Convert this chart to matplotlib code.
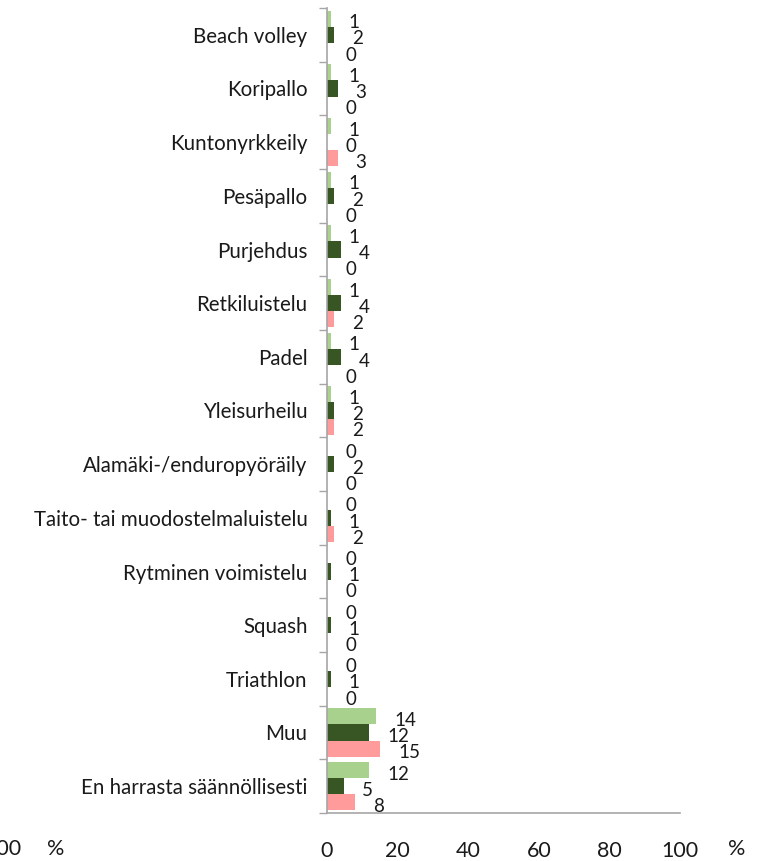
import numpy as np
import matplotlib
matplotlib.use("Agg")
import matplotlib.pyplot as plt

categories = ["Beach volley", "Koripallo", "Kuntonyrkkeily", "Pesäpallo", "Purjehdus",
              "Retkiluistelu", "Padel", "Yleisurheilu", "Alamäki-/enduropyöräily",
              "Taito- tai muodostelmaluistelu", "Rytminen voimistelu", "Squash",
              "Triathlon", "Muu", "En harrasta säännöllisesti"]
light = [1, 1, 1, 1, 1, 1, 1, 1, 0, 0, 0, 0, 0, 13.9, 11.9]
dark = [2, 3, 0, 2, 4, 4, 4, 2, 2, 1, 1, 1, 1, 11.9, 4.9]
pink = [0, 0, 3, 0, 0, 2, 0, 2, 0, 2, 0, 0, 0, 15.0, 8.0]
xticks = [0, 20, 40, 60, 80, 100]

colors = ["#a9d18e", "#375623", "#ff9b9b"]
plt.rcParams["font.family"] = ["Lato", "DejaVu Sans"]
txt = "#1a1a1a"

fig = plt.figure(figsize=(7.69, 8.61), dpi=100)
ax = fig.add_axes([327 / 769, 1 - 813 / 861, 353 / 769, 805 / 861])

n = len(categories)
y = np.arange(n)
h = 0.3
for k, (vals, c) in enumerate(zip([light, dark, pink], colors)):
    pos = y + (k - 1) * h
    ax.barh(pos, vals, height=h, color=c, edgecolor="none")
    for p, v in zip(pos, vals):
        ax.annotate(f"{v:.0f}", (v, p), xytext=(13, -3), textcoords="offset points",
                    ha="left", va="center", fontsize=13.5, color=txt)

ax.set_ylim(n - 0.5, -0.5)
ax.set_xlim(0, 100)
ax.set_yticks(y)
ax.set_yticklabels(categories, fontsize=14.8, color=txt)
ax.tick_params(axis="y", length=0, pad=14)
ax.set_yticks(np.arange(-0.5, n, 1), minor=True)
ax.tick_params(axis="y", which="minor", length=6, color="#a6a6a6", width=1)
ax.set_xticks(xticks)
ax.set_xticklabels([str(t) for t in xticks], fontsize=15.5, color=txt)
ax.tick_params(axis="x", length=0, pad=20)
for s in ["top", "right"]:
    ax.spines[s].set_visible(False)
for s in ["left", "bottom"]:
    ax.spines[s].set_color("#a6a6a6")
    ax.spines[s].set_linewidth(1.2)

fig.text(737 / 769, 1 - 849 / 861, "%", fontsize=15.5, ha="center", va="center", color=txt)
fig.text(21 / 769, 1 - 849 / 861, "100", fontsize=15.5, ha="right", va="center", color=txt)
fig.text(56 / 769, 1 - 849 / 861, "%", fontsize=15.5, ha="center", va="center", color=txt)

fig.savefig("out.png", dpi=100)
